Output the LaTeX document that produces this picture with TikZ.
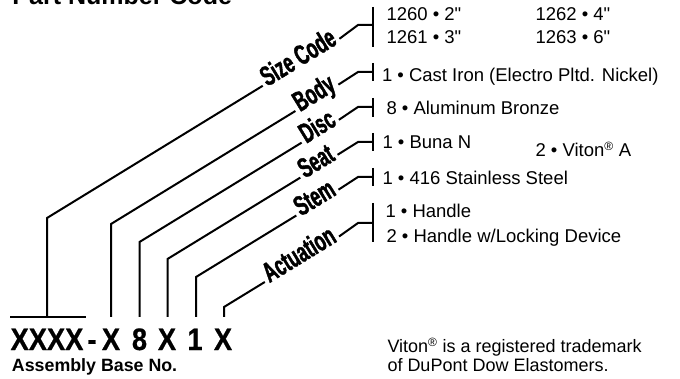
\documentclass[tikz,border=0pt]{standalone}
\usepackage{fontspec}
\setmainfont{Liberation Sans}[Ligatures=TeXOff]
\newfontfamily\condb[FakeStretch=0.62,FakeBold=1.5]{Liberation Sans Bold}
\newfontfamily\xbold[FakeStretch=0.88,FakeBold=0.6]{Liberation Sans Bold}
\newfontfamily\hbold{Liberation Sans Bold}
\newcommand{\regmark}{\textsuperscript{\fontsize{12}{12}\selectfont ®}}
\begin{document}
\begin{tikzpicture}[x=1pt,y=-1pt,line width=2pt,line join=miter,
  lbl/.style={rotate=31.5,font=\condb\fontsize{28}{28}\selectfont,inner sep=2.5pt,text height=0.72em,text depth=0.04em},
  item/.style={anchor=base west,inner sep=0,font=\fontsize{18.5}{18.5}\selectfont},
  note/.style={anchor=base west,inner sep=0,font=\fontsize{18}{18}\selectfont},
  codech/.style={anchor=base,inner sep=0,font=\xbold\fontsize{31}{31}\selectfont}]
\useasboundingbox (0,0) rectangle (680,379);

% title (cut off at the top)
\node[anchor=base west,inner sep=0,font=\hbold\fontsize{25}{25}\selectfont] (title) at (11.5,5) {Part Number Code};

% code characters
\node[codech] (cX4) at (47,350) {XXXX};
\node[codech] (cdash) at (92,350) {-};
\node[codech] (cB) at (111,350) {X};
\node[codech] (cD) at (139.5,350) {8};
\node[codech] (cSe) at (167,350) {X};
\node[codech] (cSt) at (195,350) {1};
\node[codech] (cA) at (223,350) {X};
\node[anchor=base west,inner sep=0,font=\hbold\fontsize{17.8}{17.8}\selectfont] (asm) at (11,371.7) {Assembly Base No.};

% base line under XXXX
\coordinate (hL) at (10,317);
\coordinate (hR) at (86,317);
\draw (hL) -- (hR);

% Size Code
\coordinate (b1) at (47,317); \coordinate (c1) at (47,218);
\path (c1) ++(31.5:298pt) node[lbl] (l1) {Size Code};
\coordinate (m1) at (358,25); \coordinate (t1) at (372.5,25);
\coordinate (u1) at (372.5,7); \coordinate (d1) at (372.5,47);
\draw (b1) -- (c1) -- (l1.west);
\draw (l1.east) -- (m1) -- (t1);
\draw (u1) -- (d1);

% Body
\coordinate (b2) at (111,317); \coordinate (c2) at (111,224);
\path (c2) ++(31.5:241.5pt) node[lbl] (l2) {Body};
\coordinate (m2) at (358,72); \coordinate (t2) at (372.5,72);
\coordinate (u2) at (372.5,63); \coordinate (d2) at (372.5,81);
\draw (b2) -- (c2) -- (l2.west);
\draw (l2.east) -- (m2) -- (t2);
\draw (u2) -- (d2);

% Disc
\coordinate (b3) at (139.5,317); \coordinate (c3) at (139.5,242);
\path (c3) ++(31.5:212pt) node[lbl] (l3) {Disc};
\coordinate (m3) at (358,107); \coordinate (t3) at (372.5,107);
\coordinate (u3) at (372.5,98); \coordinate (d3) at (372.5,117);
\draw (b3) -- (c3) -- (l3.west);
\draw (l3.east) -- (m3) -- (t3);
\draw (u3) -- (d3);

% Seat
\coordinate (b4) at (167.5,317); \coordinate (c4) at (167.5,259);
\path (c4) ++(31.5:177.6pt) node[lbl] (l4) {Seat};
\coordinate (m4) at (358,142); \coordinate (t4) at (372.5,142);
\coordinate (u4) at (372.5,133); \coordinate (d4) at (372.5,151);
\draw (b4) -- (c4) -- (l4.west);
\draw (l4.east) -- (m4) -- (t4);
\draw (u4) -- (d4);

% Stem
\coordinate (b5) at (196,317); \coordinate (c5) at (196,277);
\path (c5) ++(31.5:142.4pt) node[lbl] (l5) {Stem};
\coordinate (m5) at (358,177); \coordinate (t5) at (372.5,177);
\coordinate (u5) at (372.5,168); \coordinate (d5) at (372.5,186);
\draw (b5) -- (c5) -- (l5.west);
\draw (l5.east) -- (m5) -- (t5);
\draw (u5) -- (d5);

% Actuation
\coordinate (b6) at (224,317); \coordinate (c6) at (224,307);
\path (c6) ++(31.5:91.4pt) node[lbl] (l6) {Actuation};
\coordinate (m6) at (358,223); \coordinate (t6) at (372.5,223);
\coordinate (u6) at (372.5,203); \coordinate (d6) at (372.5,242);
\draw (b6) -- (c6) -- (l6.west);
\draw (l6.east) -- (m6) -- (t6);
\draw (u6) -- (d6);

% option texts
\node[item] (s1) at (385.5,20.7) {1260 • 2"};
\node[item] (s2) at (385.5,44) {1261 • 3"};
\node[item] (s3) at (534.5,20.7) {1262 • 4"};
\node[item] (s4) at (534.5,44) {1263 • 6"};
\node[item] (body1) at (381,82) {1 • Cast Iron (Electro Pltd. Nickel)};
\node[item] (disc8) at (385.5,115) {8 • Aluminum Bronze};
\node[item] (seat1) at (381.5,149) {1 • Buna N};
\node[item] (seat2) at (534.5,157) {2 • Viton\regmark{} A};
\node[item] (stem1) at (381.5,185) {1 • 416 Stainless Steel};
\node[item] (act1) at (384.5,218) {1 • Handle};
\node[item] (act2) at (385.5,243) {2 • Handle w/Locking Device};

% footnote
\node[note] (n1) at (386.5,352.7) {Viton\regmark{} is a registered trademark};
\node[note] (n2) at (386.5,371.7) {of DuPont Dow Elastomers.};
\end{tikzpicture}
\end{document}
